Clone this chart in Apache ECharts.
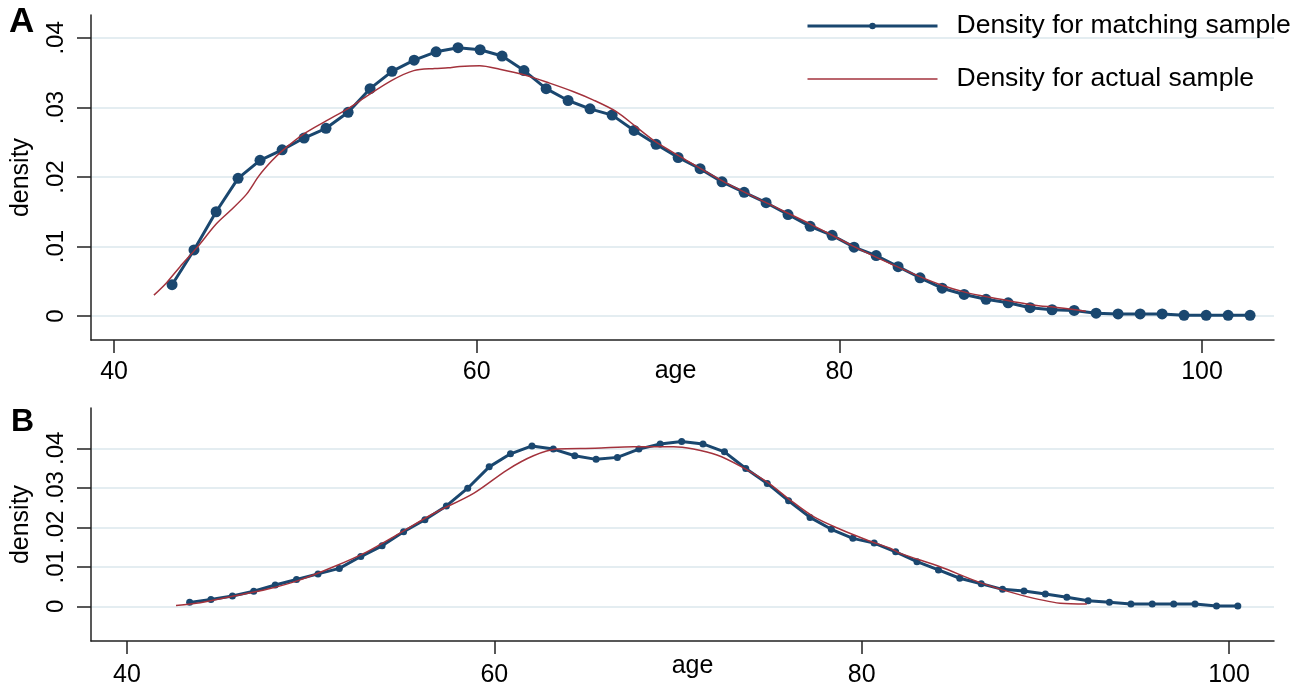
<!DOCTYPE html>
<html>
<head>
<meta charset="utf-8">
<script src="https://cdn.jsdelivr.net/npm/echarts@6/dist/echarts.min.js"></script>
<style>
  html, body { margin: 0; padding: 0; background: #fff; }
  #main { width: 1302px; height: 690px; }
</style>
</head>
<body>
<div id="main"></div>
<script>
// Panel A: kernel density of age
var ageA = [43.20, 44.41, 45.63, 46.84, 48.05, 49.27, 50.48, 51.69, 52.91, 54.12,
            55.33, 56.55, 57.76, 58.97, 60.19, 61.40, 62.61, 63.83, 65.04, 66.25,
            67.47, 68.68, 69.89, 71.11, 72.32, 73.53, 74.75, 75.96, 77.17, 78.39,
            79.60, 80.81, 82.03, 83.24, 84.45, 85.67, 86.88, 88.09, 89.31, 90.52,
            91.73, 92.95, 94.16, 95.37, 96.59, 97.80, 99.01, 100.23, 101.44, 102.65];
var matchA = [0.0045, 0.0095, 0.0150, 0.0198, 0.0224, 0.0239, 0.0256, 0.0270, 0.0293, 0.0327,
              0.0352, 0.0368, 0.0380, 0.0386, 0.0383, 0.0374, 0.0353, 0.0327, 0.0310, 0.0298,
              0.0289, 0.0267, 0.0247, 0.0228, 0.0212, 0.0193, 0.0178, 0.0163, 0.0146, 0.0129,
              0.0116, 0.0099, 0.0087, 0.0071, 0.0055, 0.0040, 0.0031, 0.0024, 0.0019, 0.0012,
              0.0009, 0.0008, 0.0004, 0.0003, 0.0003, 0.0003, 0.0001, 0.0001, 0.0001, 0.0001];
var actualAgeA = [42.20, 42.90, 43.64, 44.56, 45.62, 46.39, 47.30, 48.00, 48.69, 49.29,
                  50.47, 51.72, 52.88, 53.92, 55.32, 56.53, 57.69, 58.42, 59.06, 60.17,
                  61.27, 62.74, 64.02, 65.31, 66.41, 67.70, 68.80, 69.90, 71.18, 73.57,
                  75.96, 78.35, 80.73, 82.75, 84.41, 85.69, 86.98, 88.26, 89.55, 90.65,
                  92.12, 93.59];
var actualA = [0.0030, 0.0048, 0.0071, 0.0098, 0.0132, 0.0151, 0.0175, 0.0202, 0.0223, 0.0238,
               0.0262, 0.0281, 0.0298, 0.0316, 0.0339, 0.0353, 0.0356, 0.0357, 0.0359, 0.0360,
               0.0355, 0.0346, 0.0335, 0.0323, 0.0311, 0.0294, 0.0272, 0.0250, 0.0230, 0.0194,
               0.0163, 0.0133, 0.0101, 0.0076, 0.0057, 0.0044, 0.0034, 0.0027, 0.0021, 0.0016,
               0.0012, 0.0007];

// Panel B
var ageB = [43.41, 44.57, 45.74, 46.90, 48.07, 49.23, 50.40, 51.56, 52.73, 53.89,
            55.06, 56.22, 57.39, 58.55, 59.72, 60.88, 62.05, 63.21, 64.38, 65.54,
            66.70, 67.87, 69.03, 70.20, 71.36, 72.53, 73.69, 74.86, 76.02, 77.19,
            78.35, 79.52, 80.68, 81.85, 83.01, 84.18, 85.34, 86.51, 87.67, 88.84,
            90.00, 91.17, 92.33, 93.49, 94.66, 95.82, 96.99, 98.15, 99.32, 100.48];
var matchB = [0.0010, 0.0017, 0.0026, 0.0038, 0.0054, 0.0068, 0.0082, 0.0096, 0.0126, 0.0153,
              0.0189, 0.0219, 0.0254, 0.0299, 0.0353, 0.0386, 0.0406, 0.0398, 0.0381, 0.0372,
              0.0377, 0.0398, 0.0411, 0.0417, 0.0411, 0.0391, 0.0349, 0.0311, 0.0267, 0.0225,
              0.0195, 0.0172, 0.0160, 0.0138, 0.0113, 0.0092, 0.0071, 0.0057, 0.0043, 0.0039,
              0.0031, 0.0023, 0.0014, 0.0010, 0.0006, 0.0006, 0.0006, 0.0006, 0.0001, 0.0001];
var actualAgeB = [42.67, 43.99, 45.80, 47.62, 49.43, 51.25, 53.06, 54.88, 56.69, 58.87,
                  60.69, 62.13, 63.41, 65.49, 67.58, 69.76, 70.84, 72.12, 73.39, 74.84,
                  76.11, 77.38, 78.83, 80.28, 81.55, 82.10, 84.27, 86.45, 88.63, 90.80,
                  92.26];
var actualB = [0.0002, 0.0009, 0.0026, 0.0043, 0.0067, 0.0100, 0.0138, 0.0186, 0.0235, 0.0286,
               0.0345, 0.0381, 0.0398, 0.0400, 0.0404, 0.0404, 0.0398, 0.0383, 0.0355, 0.0315,
               0.0269, 0.0227, 0.0195, 0.0168, 0.0147, 0.0134, 0.0100, 0.0060, 0.0029, 0.0008,
               0.0006];

var xTicks = [40, 60, 80, 100];
var yTicks = [0, 0.01, 0.02, 0.03, 0.04];
var nameMatch = 'Density for matching sample';
var nameActual = 'Density for actual sample';

var FONT = '"Liberation Sans", Arial, sans-serif';
var BLUE = '#1a476f';
var RED = '#a3323c';
var GRID = '#e4edf1';

function pairs(xs, ys) {
    return xs.map(function (x, i) { return [x, ys[i]]; });
}
function yFmt(v) {
    if (v === 0) return '0';
    return v.toFixed(2).replace(/^0/, '');
}

function xAxisOf(idx, min, max, margin, nameGap, namePad) {
    return {
        gridIndex: idx, type: 'value', min: min, max: max,
        axisLine: { show: true, onZero: false, lineStyle: { color: '#222', width: 1.5 } },
        axisTick: { show: true, customValues: xTicks, length: 13, lineStyle: { color: '#222', width: 1.5 } },
        axisLabel: { customValues: xTicks, margin: margin, fontSize: 25, color: '#000', fontFamily: FONT },
        splitLine: { show: false },
        name: 'age', nameLocation: 'middle', nameGap: nameGap, nameMoveOverlap: false,
        nameTextStyle: { fontSize: 25, color: '#000', fontFamily: FONT, padding: namePad }
    };
}
function yAxisOf(idx, min, max) {
    return {
        gridIndex: idx, type: 'value', min: min, max: max,
        axisLine: { show: true, onZero: false, lineStyle: { color: '#222', width: 1.5 } },
        axisTick: { show: true, customValues: yTicks, length: 14, lineStyle: { color: '#222', width: 1.5 } },
        axisLabel: { customValues: yTicks, formatter: yFmt, rotate: 90, margin: 23,
                     fontSize: 24, color: '#000', fontFamily: FONT },
        splitLine: { show: true, lineStyle: { color: GRID, width: 2 } },
        name: 'density', nameLocation: 'middle', nameRotate: 90, nameGap: 57, nameMoveOverlap: false,
        nameTextStyle: { fontSize: 25, color: '#000', fontFamily: FONT }
    };
}

var option = {
    animation: false,
    backgroundColor: '#fff',
    textStyle: { fontFamily: FONT },
    grid: [
        { left: 91, right: 28, top: 15, height: 325, outerBoundsMode: 'none', containLabel: false },
        { left: 91, right: 28, top: 408, height: 233, outerBoundsMode: 'none', containLabel: false }
    ],
    xAxis: [
        xAxisOf(0, 38.73, 103.97, 20, 19, [0, 14, 0, 0]),
        xAxisOf(1, 38.04, 102.45, 22, 13, [0, 0, 0, 20])
    ],
    yAxis: [
        yAxisOf(0, -0.00345, 0.0433),
        yAxisOf(1, -0.00878, 0.0502)
    ],
    legend: {
        orient: 'vertical', left: 801, top: 6,
        itemWidth: 130, itemHeight: 8, itemGap: 23,
        data: [
            { name: nameMatch, lineStyle: { width: 3 } },
            { name: nameActual, lineStyle: { width: 1.5 }, itemStyle: { opacity: 0 } }
        ],
        textStyle: { fontSize: 26.5, lineHeight: 30, color: '#000', fontFamily: FONT, padding: [0, 0, 0, 14] }
    },
    graphic: [
        { type: 'text', left: 9, top: 5, style: { text: 'A', font: 'bold 35px ' + FONT, fill: '#000' } },
        { type: 'text', left: 11, top: 406, style: { text: 'B', font: 'bold 32px ' + FONT, fill: '#000' } }
    ],
    series: [
        {
            name: nameMatch, type: 'line', xAxisIndex: 0, yAxisIndex: 0,
            data: pairs(ageA, matchA), symbol: 'circle', symbolSize: 11,
            lineStyle: { color: BLUE, width: 3 }, itemStyle: { color: BLUE }, z: 2
        },
        {
            name: nameActual, type: 'line', xAxisIndex: 0, yAxisIndex: 0,
            data: pairs(actualAgeA, actualA), symbol: 'none', smooth: 0.3,
            lineStyle: { color: RED, width: 1.5 }, itemStyle: { color: RED }, z: 3
        },
        {
            name: nameMatch, type: 'line', xAxisIndex: 1, yAxisIndex: 1,
            data: pairs(ageB, matchB), symbol: 'circle', symbolSize: 7,
            lineStyle: { color: BLUE, width: 3 }, itemStyle: { color: BLUE }, z: 2
        },
        {
            name: nameActual, type: 'line', xAxisIndex: 1, yAxisIndex: 1,
            data: pairs(actualAgeB, actualB), symbol: 'none', smooth: 0.3,
            lineStyle: { color: RED, width: 1.5 }, itemStyle: { color: RED }, z: 3
        }
    ]
};

var chart = echarts.init(document.getElementById('main'));
chart.setOption(option);
</script>
</body>
</html>
